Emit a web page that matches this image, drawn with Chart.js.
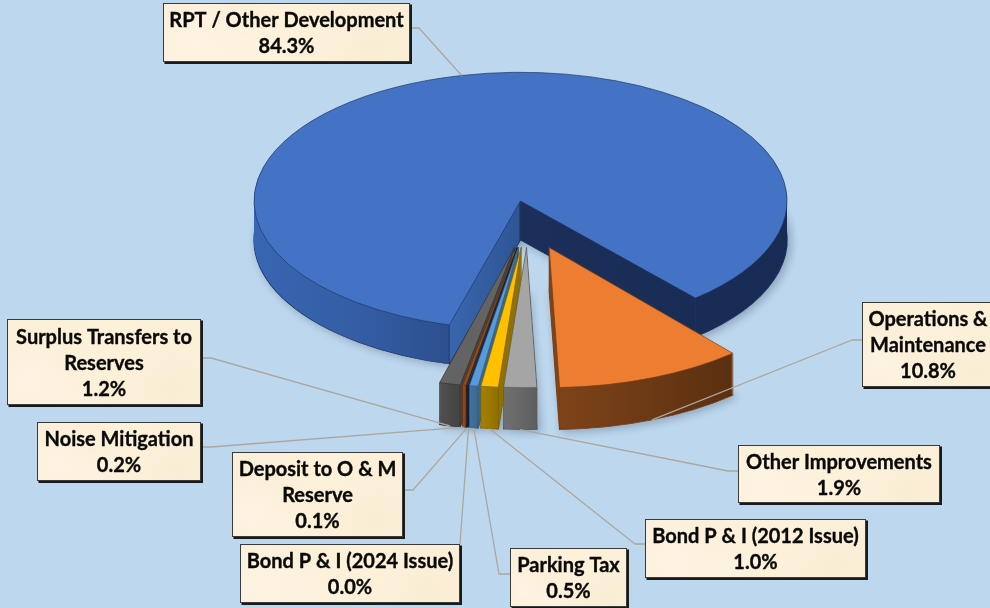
<!DOCTYPE html>
<html>
<head>
<meta charset="utf-8">
<style>html,body{margin:0;padding:0;background:#BDD7EE;overflow:hidden}canvas{display:block}</style>
<script src="https://cdn.jsdelivr.net/npm/chart.js@4/dist/chart.umd.js"></script>
</head>
<body>
<canvas id="c" width="990" height="608"></canvas>
<script>
const categories = ["RPT / Other Development","Operations & Maintenance","Other Improvements","Bond P & I (2012 Issue)","Parking Tax","Bond P & I (2024 Issue)","Deposit to O & M Reserve","Noise Mitigation","Surplus Transfers to Reserves"];
const values = [84.3,10.8,1.9,1.0,0.5,0.0,0.1,0.2,1.2];
const topColors = ["#4472C4","#ED7D31","#A5A5A5","#FFC000","#5B9BD5","#70AD47","#264478","#9E480E","#636363"];
const sideColors = [null,["#7E4419","#5A2F10"],["#707070","#5E5E5E"],["#A68000","#8F7000"],["#42749F","#3A668C"],["#4A7530","#4A7530"],["#14253F","#14253F"],["#A04C10","#8A400C"],["#505050","#434343"]];
const edgeColors = ["#1E3560","#7A3E14","#5A5A5A","#7F6000","#2F5F88","#3C6024","#0F1C30","#6A3008","#333333"];
// label box layout [left, top, right, bottom], and the side the leader leaves from
const boxes = [[163,3,410,62],[862,302,996,387],[738,445,940,503],[645,519,866,578],[510,548,627,607],[240,544,460,603],[232,452,403,537],[37,422,201,481],[7,319,201,405]];
const leaderFrom = [[410,28,419,28],[862,340,852,340],[738,471,728,471],[645,544,635,544],[510,574,499,574],[460,544,460,544],[403,490,413,490],[201,447,211,447],[201,358,211,358]];
const drawOrder = [0,8,7,6,5,4,3,2,1];

function geom(i, arc){
  const th = (arc.startAngle+arc.endAngle)/2 + Math.PI/2;
  if(i===0) return {sx:1,sy:0.483,ex:0,ey:0,depth:39};
  return {sx:1.05,sy:0.526,ex:7.3+58*Math.sin(th),ey:46.5,depth:42};
}
function place(ctx,arc,g,z){
  ctx.translate(arc.x+g.ex,arc.y+g.ey+z);
  ctx.scale(g.sx,g.sy);
  ctx.translate(-arc.x,-arc.y);
}
function pt(arc,g,angle,r,z){
  return {x:arc.x+g.ex+g.sx*Math.cos(angle)*r, y:arc.y+g.ey+z+g.sy*Math.sin(angle)*r};
}
function sideFill(ctx,i,arc){
  const R=arc.outerRadius;
  if(i===0){
    const gr=ctx.createLinearGradient(arc.x-R,0,arc.x+R,0);
    gr.addColorStop(0,"#3866B2");gr.addColorStop(0.2,"#345DA4");gr.addColorStop(0.3655,"#2C4F8E");
    gr.addColorStop(0.3665,"#3A66AE");gr.addColorStop(0.496,"#2E5596");
    gr.addColorStop(0.5,"#1B2F5A");gr.addColorStop(1,"#182B54");
    return gr;
  }
  const xs=[arc.x+Math.cos(arc.startAngle)*R,arc.x+Math.cos(arc.endAngle)*R];
  const gr=ctx.createLinearGradient(Math.min(...xs),0,Math.max(...xs)+0.01,0);
  gr.addColorStop(0,sideColors[i][0]);gr.addColorStop(1,sideColors[i][1]);
  return gr;
}
function drawArc(ctx,arc,fill,stroke,bw){
  const v=Object.create(arc);
  v.options=Object.assign({},arc.options,{backgroundColor:fill,borderColor:stroke,borderWidth:bw,offset:0,spacing:0});
  Object.getPrototypeOf(arc).draw.call(v,ctx);
}
const pie3d={
  id:'pie3d',
  beforeDatasetsDraw(chart){
    const ctx=chart.ctx, arcs=chart.getDatasetMeta(0).data;
    drawOrder.forEach(i=>{
      const arc=arcs[i], g=geom(i,arc);
      if(arc.circumference===0) return;
      const fill=sideFill(ctx,i,arc);
      for(let z=g.depth;z>=1;z--){
        ctx.save();
        if(z===g.depth){ctx.shadowColor='rgba(30,50,70,0.3)';ctx.shadowBlur=9;ctx.shadowOffsetX=3;ctx.shadowOffsetY=2;}
        place(ctx,arc,g,z);
        drawArc(ctx,arc,fill,edgeColors[i],z===g.depth?1.2:0);
        ctx.restore();
      }
      ctx.save();
      ctx.strokeStyle=edgeColors[i];ctx.lineWidth=0.8;
      [[arc.startAngle,arc.outerRadius],[arc.endAngle,arc.outerRadius],[arc.startAngle,0]].forEach(([a,r])=>{
        const p=pt(arc,g,a,r,0),q=pt(arc,g,a,r,g.depth);
        ctx.beginPath();ctx.moveTo(p.x,p.y);ctx.lineTo(q.x,q.y);ctx.stroke();
      });
      ctx.restore();
      ctx.save();
      place(ctx,arc,g,0);
      drawArc(ctx,arc,topColors[i],edgeColors[i],0.9);
      ctx.restore();
    });
    return false;
  },
  afterDraw(chart){
    const ctx=chart.ctx, arcs=chart.getDatasetMeta(0).data;
    // leaders
    ctx.save();
    ctx.strokeStyle='#ABA79E';ctx.lineWidth=1.3;ctx.lineJoin='round';
    categories.forEach((_,i)=>{
      const arc=arcs[i],g=geom(i,arc),mid=(arc.startAngle+arc.endAngle)/2;
      const z=Math.sin(mid)>0?g.depth:0;
      const p=pt(arc,g,mid,arc.outerRadius,z);
      const l=leaderFrom[i];
      ctx.beginPath();ctx.moveTo(l[0],l[1]);ctx.lineTo(l[2],l[3]);ctx.lineTo(p.x,p.y);ctx.stroke();
    });
    ctx.restore();
    // boxes
    categories.forEach((name,i)=>{
      const [x0,y0,x1,y1]=boxes[i],w=x1-x0,h=y1-y0;
      ctx.save();
      ctx.fillStyle='#1A1A1A';ctx.fillRect(x0+1.5,y0+1.5,w+0.5,h+0.5);
      ctx.fillStyle='#FBEFD8';ctx.fillRect(x0,y0,w,h);
      ctx.beginPath();ctx.rect(x0,y0,w,h);ctx.clip();
      [[0.12,0.72,0.25,'rgba(255,245,230,0.8)'],[0.55,0.2,0.3,'rgba(255,243,220,0.7)'],[0.85,0.8,0.22,'rgba(248,235,208,0.5)'],[0.35,0.95,0.2,'rgba(255,245,228,0.6)']].forEach(([fx,fy,fr,col])=>{
        const cx=x0+fx*w,cy=y0+fy*h,r=fr*w;
        const rg=ctx.createRadialGradient(cx,cy,0,cx,cy,r);
        rg.addColorStop(0,col);rg.addColorStop(1,col.replace(/[\d.]+\)$/,'0)'));
        ctx.fillStyle=rg;ctx.fillRect(x0,y0,w,h);
      });
      ctx.restore();
      ctx.save();
      ctx.strokeStyle='#3A3A3A';ctx.lineWidth=1;ctx.strokeRect(x0+0.5,y0+0.5,w-1,h-1);
      ctx.fillStyle='#0A0A0A';ctx.font='bold 20px Lato';ctx.textAlign='center';ctx.textBaseline='middle';
      ctx.strokeStyle='#0A0A0A';ctx.lineWidth=0.35;ctx.lineJoin='round';
      const lines=[];let cur='';
      name.split(' ').forEach(word=>{
        const t=cur?cur+' '+word:word;
        if(ctx.measureText(t).width>w-6&&cur){lines.push(cur);cur=word;}else cur=t;
      });
      lines.push(cur);lines.push(values[i].toFixed(1)+'%');
      const lh=26,cx=(x0+x1)/2-(i===1?1:0),top=(y0+y1)/2+1.5-(lines.length-1)*lh/2;
      lines.forEach((t,k)=>{ctx.fillText(t,cx,top+k*lh);ctx.strokeText(t,cx,top+k*lh);});
      ctx.restore();
    });
  }
};
new Chart(document.getElementById('c'),{
  type:'pie',
  data:{labels:categories,datasets:[{data:values,backgroundColor:topColors,borderWidth:0}]},
  options:{
    responsive:false,animation:false,rotation:195.5,radius:266.5,
    layout:{padding:{left:51,bottom:206}},
    plugins:{legend:{display:false},tooltip:{enabled:false}}
  },
  plugins:[pie3d]
});
</script>
</body>
</html>
